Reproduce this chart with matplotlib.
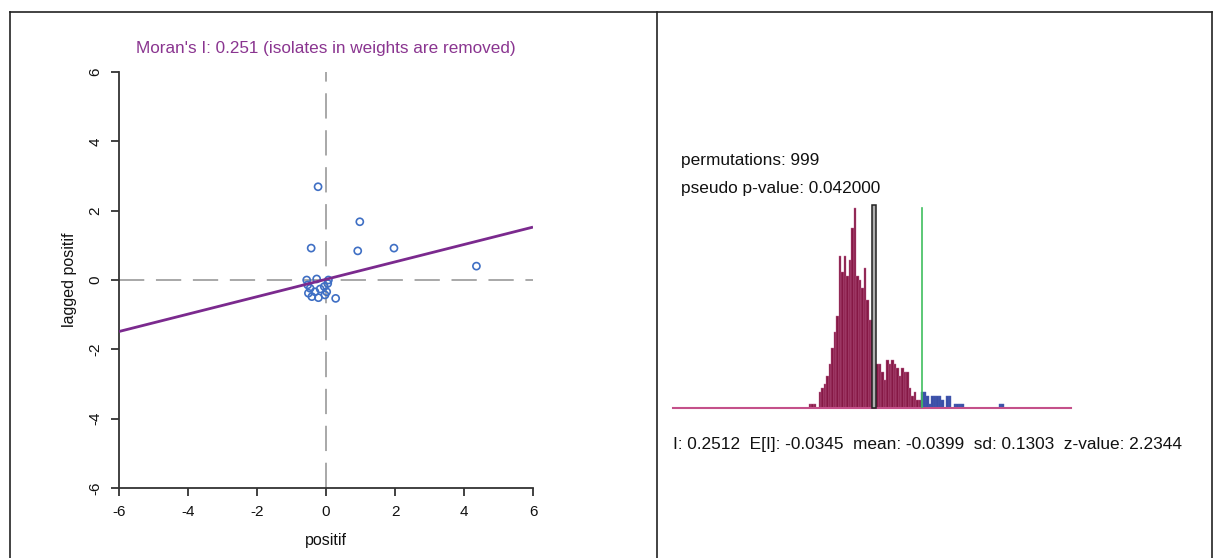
import numpy as np
import matplotlib
matplotlib.use("Agg")
import matplotlib.pyplot as plt
from matplotlib.lines import Line2D
from matplotlib.patches import Rectangle

plt.rcParams['font.family'] = ['Liberation Sans Narrow', 'Liberation Sans', 'DejaVu Sans']

# ---------------- data ----------------
x_positif = [-0.23, 0.98, -0.43, 0.92, 1.97, 4.36,
             -0.56, -0.27, -0.53, -0.46, -0.51, -0.41, -0.22, -0.32,
             -0.05, 0.02, 0.05, 0.28, -0.03, -0.17, 0.07]
y_lagged = [2.69, 1.68, 0.92, 0.84, 0.92, 0.40,
            0.00, 0.03, -0.14, -0.24, -0.38, -0.48, -0.51, -0.34,
            -0.19, -0.34, -0.10, -0.53, -0.43, -0.26, 0.00]
morans_i = 0.251
intercept = 0.02
axis_ticks = [-6, -4, -2, 0, 2, 4, 6]

perm_counts = [1, 1, 1, 0, 4, 5, 6, 8, 11, 15,
               19, 23, 38, 34, 38, 33, 37, 45, 50, 33,
               32, 30, 35, 27, 22, 22, 9, 11, 11, 9,
               7, 12, 11, 12, 11, 10, 8, 10, 9, 9,
               5, 3, 4, 2, 2,
               4, 4, 3, 1, 3, 3, 3, 3, 2, 0, 3, 3, 0, 1, 1, 1, 1,
               0, 0, 0, 0, 0, 0, 0, 0, 0, 0, 0, 0, 0, 0,
               1, 1]
hist_first_center = -0.4278
hist_bin_width = 0.01515
permutations = 999
pseudo_p = 0.042
obs_I = 0.2512
exp_I = -0.0345
mean_I = -0.0399
sd_I = 0.1303
z_value = 2.2344

# ---------------- figure ----------------
W, H = 1219, 558
fig = plt.figure(figsize=(W / 100, H / 100), dpi=100)
fig.patch.set_facecolor('white')


def fx(x):
    return x / W


def fy(y):
    return 1 - y / H


# outer frame lines
for (x0, y0, x1, y1) in [(10, 12, 1212, 12), (10, 12, 10, 558),
                         (657, 12, 657, 558), (1212, 12, 1212, 558)]:
    fig.add_artist(Line2D([fx(x0), fx(x1)], [fy(y0), fy(y1)],
                          color='#222222', lw=1.2))

# ---------------- scatter panel ----------------
L, R, T, B = 119, 533, 72, 488
ax = fig.add_axes([fx(L), fy(B), fx(R - L), (B - T) / H])
ax.set_xlim(-6, 6)
ax.set_ylim(-6, 6)
for s in ['top', 'right']:
    ax.spines[s].set_visible(False)
for s in ['left', 'bottom']:
    ax.spines[s].set_color('#333333')
    ax.spines[s].set_linewidth(1.3)
ax.set_xticks(axis_ticks)
ax.set_yticks(axis_ticks)
ax.set_xticklabels([str(t) for t in axis_ticks])
ax.set_yticklabels([str(t) for t in axis_ticks], rotation=90, va='center')
ax.tick_params(direction='out', length=6, width=1.3, color='#333333',
               labelsize=11, labelcolor='#111111', pad=6)

ax.axhline(0, color='#a8a8a8', lw=1.4, ls=(0, (13, 6)), zorder=1)
ax.axvline(0, color='#a8a8a8', lw=1.4, ls=(0, (13, 6)), zorder=1)
ax.scatter(x_positif, y_lagged, s=26, facecolors='none',
           edgecolors='#3f6fc4', linewidths=1.2, zorder=3)
xs = np.array([-6, 6])
ax.plot(xs, intercept + morans_i * xs, color='#7b2a8e', lw=2.0, zorder=4,
        solid_capstyle='butt')
ax.set_xlabel('positif', fontsize=11.5, color='#111111', labelpad=10)
ax.set_ylabel('lagged positif', fontsize=11.5, color='#111111', labelpad=8)
fig.text(fx(326), fy(48), "Moran's I: %.3f (isolates in weights are removed)" % morans_i,
         ha='center', va='center', fontsize=12.3, color='#8a3590')

# ---------------- permutation histogram ----------------
HL, HR, HT, HB = 673, 1071, 204, 408
xlo = mean_I + (HL - 874) / 165
xhi = mean_I + (HR - 874) / 165
hx = fig.add_axes([fx(HL), fy(HB), fx(HR - HL), (HB - HT) / H])
hx.set_xlim(xlo, xhi)
hx.set_ylim(0, 51)
hx.axis('off')
centers = hist_first_center + hist_bin_width * np.arange(len(perm_counts))
colors = ['#3a4fa6' if c >= obs_I else '#861845' for c in centers]
edges = ['#4a5fb6' if c >= obs_I else '#c46a98' for c in centers]
hx.bar(centers, perm_counts, width=hist_bin_width, color=colors,
       edgecolor=edges, linewidth=0.3, zorder=2)
hx.axhline(0, color='#c4508a', lw=1.5, zorder=3, clip_on=False)
hx.add_patch(Rectangle((mean_I - 0.011, 0), 0.022, 50.7, facecolor='#b0b0b0',
                       edgecolor='#222222', lw=1.1, zorder=4, clip_on=False))
hx.plot([obs_I, obs_I], [0, 50], color='#3fbf5f', lw=1.2, zorder=5)

fig.text(fx(681), fy(161), 'permutations: %d' % permutations, ha='left', va='center',
         fontsize=12.4, color='#111111')
fig.text(fx(681), fy(189), 'pseudo p-value: %.6f' % pseudo_p, ha='left', va='center',
         fontsize=12.4, color='#111111')
fig.text(fx(673), fy(445),
         'I: %.4f  E[I]: %.4f  mean: %.4f  sd: %.4f  z-value: %.4f'
         % (obs_I, exp_I, mean_I, sd_I, z_value),
         ha='left', va='center', fontsize=12.4, color='#111111')

fig.savefig('out.png', dpi=100, facecolor='white')
